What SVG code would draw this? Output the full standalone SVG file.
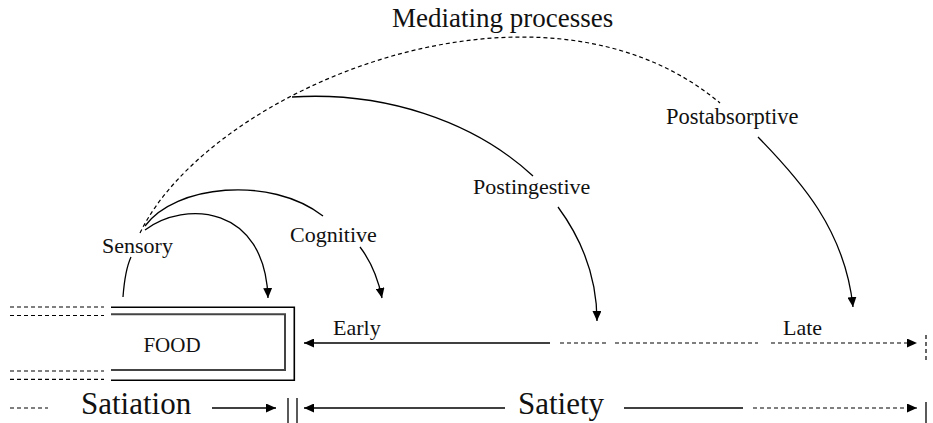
<svg xmlns="http://www.w3.org/2000/svg" width="933" height="423" viewBox="0 0 933 423">
<defs>
<marker id="ah" markerWidth="10" markerHeight="9" refX="10" refY="4.5" orient="auto" markerUnits="userSpaceOnUse"><path d="M0,0 L10,4.5 L0,9 z" fill="#000" stroke="none"/></marker>
</defs>
<style>
text{font-family:'Liberation Serif','Times New Roman',serif;fill:#111}
.s{fill:none;stroke:#000;stroke-width:1.3}
.d{fill:none;stroke:#000;stroke-width:1.2;stroke-dasharray:4,3}
</style>
<rect width="933" height="423" fill="#fff"/>
<g id="food">
<polyline class="s" style="stroke-width:1.6" points="111,307.3 294.3,307.3 294.3,380.3 111,380.3"/>
<polyline fill="none" stroke="#444" stroke-width="2" points="111,314.3 285,314.3 285,370 111,370"/>
<line class="d" x1="10" y1="307" x2="104" y2="307"/>
<line class="d" x1="10" y1="315.5" x2="104" y2="315.5"/>
<line class="d" x1="10" y1="371" x2="104" y2="371"/>
<line class="d" x1="10" y1="379.3" x2="104" y2="379.3"/>
<text x="172" y="352" font-family="Liberation Serif, serif" font-size="21" text-anchor="middle">FOOD</text>
</g>
<g id="mediating"><text x="392" y="27" font-family="Liberation Serif, serif" font-size="27">Mediating processes</text></g>
<g id="sensory"><text x="102" y="253" font-family="Liberation Serif, serif" font-size="22">Sensory</text></g>
<g id="cognitive"><text x="290" y="242" font-family="Liberation Serif, serif" font-size="22">Cognitive</text></g>
<g id="postingestive"><text x="473" y="194" font-family="Liberation Serif, serif" font-size="22">Postingestive</text></g>
<g id="postabsorptive"><text x="666" y="124" font-family="Liberation Serif, serif" font-size="22.5">Postabsorptive</text></g>
<g id="early"><text x="333" y="335" font-family="Liberation Serif, serif" font-size="22">Early</text></g>
<g id="late"><text x="783" y="335" font-family="Liberation Serif, serif" font-size="22">Late</text></g>
<g id="satiation"><text x="81" y="414" font-family="Liberation Serif, serif" font-size="31">Satiation</text></g>
<g id="satiety"><text x="518" y="414" font-family="Liberation Serif, serif" font-size="31">Satiety</text></g>
<g id="connectors">
<path class="s" d="M123,297 Q125,270 131,257"/>
<path class="s" d="M145,230 C185,200 265,205 268,298" marker-end="url(#ah)"/>
<path class="s" d="M145,226 C175,185 270,175 323,216"/>
<path class="s" d="M360,247 Q376,268 382,298" marker-end="url(#ah)"/>
<path class="d" d="M140,233 C210,88 540,-48 720,103"/>
<path class="s" d="M292,97 A287,227 0 0 1 533,176"/>
<path class="s" d="M558,207 A287,227 0 0 1 597,321" marker-end="url(#ah)"/>
<path class="s" d="M758,137 C800,180 845,230 853,307" marker-end="url(#ah)"/>
<line class="s" x1="550" y1="343" x2="304" y2="343" marker-end="url(#ah)"/>
<line class="d" x1="560" y1="343" x2="606" y2="343"/>
<line class="d" x1="615" y1="343" x2="758" y2="343"/>
<line class="d" x1="771" y1="343" x2="917" y2="343" marker-end="url(#ah)"/>
<line class="d" x1="926" y1="335" x2="926" y2="362"/>
<line class="d" x1="10" y1="408" x2="48" y2="408"/>
<line class="s" x1="212" y1="408" x2="276" y2="408" marker-end="url(#ah)"/>
<line class="s" x1="288" y1="398" x2="288" y2="423"/>
<line class="s" x1="297" y1="398" x2="297" y2="423"/>
<line class="s" x1="505" y1="408" x2="304" y2="408" marker-end="url(#ah)"/>
<line class="s" x1="624" y1="408" x2="743" y2="408"/>
<line class="d" x1="753" y1="408" x2="917" y2="408" marker-end="url(#ah)"/>
<line class="s" x1="926" y1="402" x2="926" y2="423"/>
</g>
</svg>
